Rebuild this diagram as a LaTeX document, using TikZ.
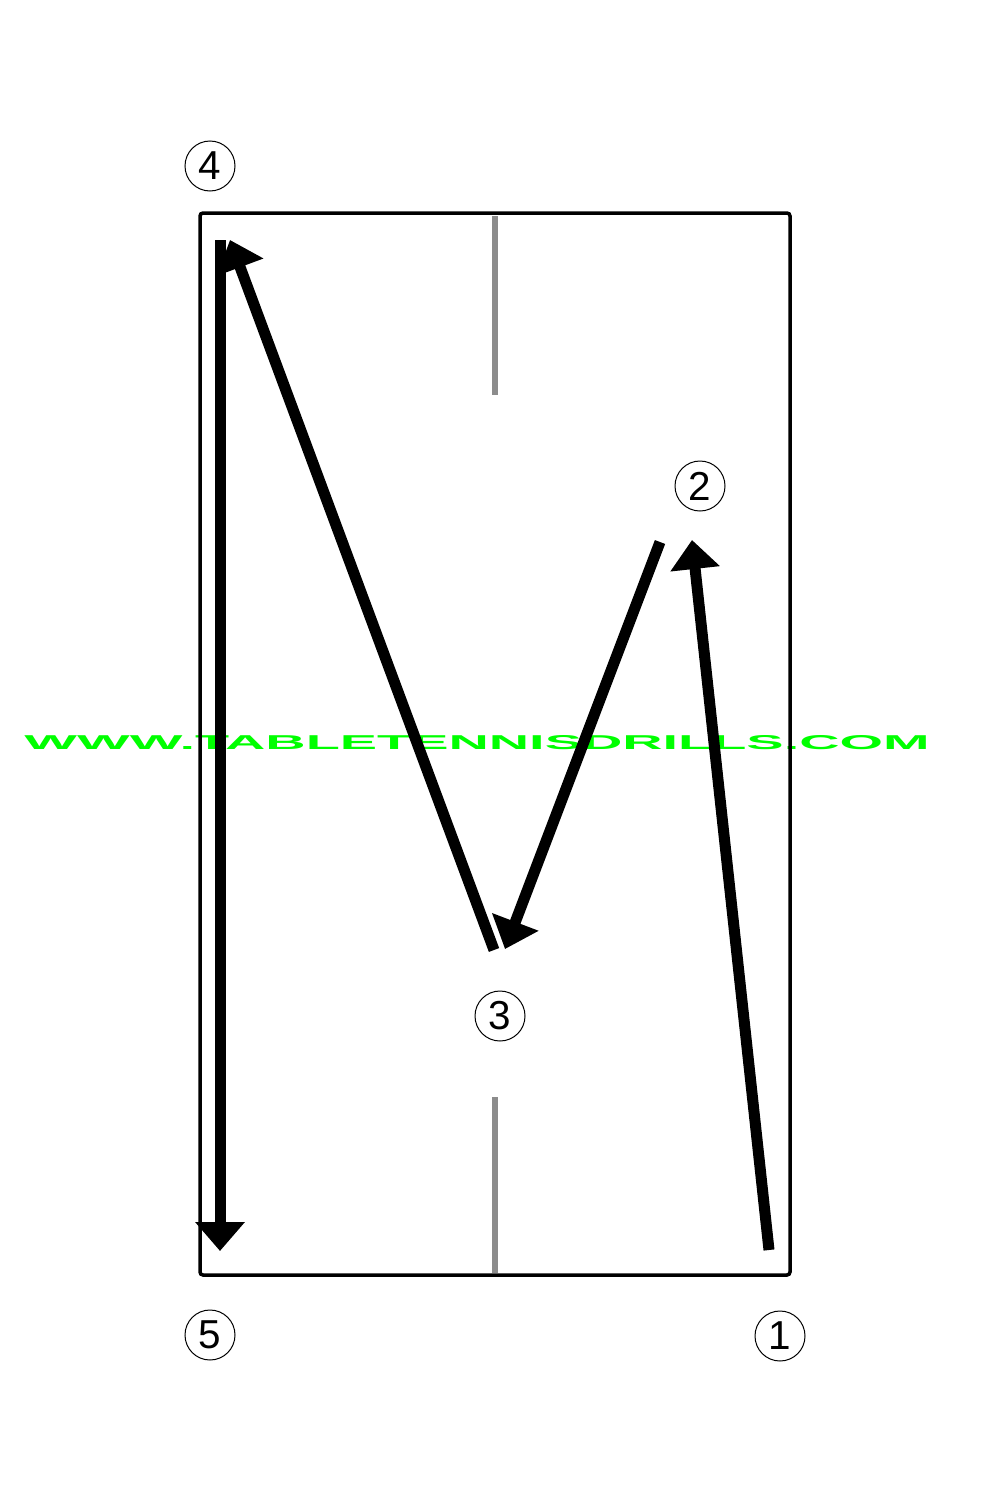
\documentclass[tikz,border=0pt]{standalone}
\usepackage{fontspec}
\setmainfont{Liberation Sans}
\usetikzlibrary{arrows.meta}
\definecolor{webgreen}{RGB}{0,255,0}
\begin{document}
\begin{tikzpicture}[x=0.2mm, y=-0.2mm,
    spot/.style={circle, draw, line width=0.2mm, minimum size=10mm, inner sep=0pt, font=\fontsize{23}{23}\selectfont},
    shot/.style={line width=2.2mm, -{Triangle[length=5.8mm, width=9.6mm]}}]
      \useasboundingbox (0,0) rectangle (1000,1500);
      % watermark
      \node (wm) at (477,743) [text=webgreen, inner sep=0pt] {\resizebox{181mm}{2.8mm}{\bfseries WWW.TABLETENNISDRILLS.COM}};
      % table
      \draw[line width=0.7mm, rounded corners=0.6mm] (200,213) rectangle (790,1275);
      \draw[line width=1.2mm, gray!90] (495,216) -- (495,395);
      \draw[line width=1.2mm, gray!90] (495,1097) -- (495,1273);
      % ball positions
      \node (1) at (780,1336) [spot] {1};
      \node (2) at (700,486) [spot] {2};
      \node (3) at (500,1016) [spot] {3};
      \node (4) at (210,166) [spot] {4};
      \node (5) at (210,1335) [spot] {5};
      \coordinate (1s) at (769,1250);
      \coordinate (1e) at (692,540);
      \coordinate (2s) at (660,542);
      \coordinate (2e) at (505,949);
      \coordinate (3s) at (494,950);
      \coordinate (3e) at (230,240);
      \coordinate (4s) at (220,240);
      \coordinate (4e) at (220,1251);
      \foreach \source/\dest in {1s/1e, 2s/2e, 3s/3e, 4s/4e}
        \draw[shot] (\source) -- (\dest);
    \end{tikzpicture}
\end{document}
